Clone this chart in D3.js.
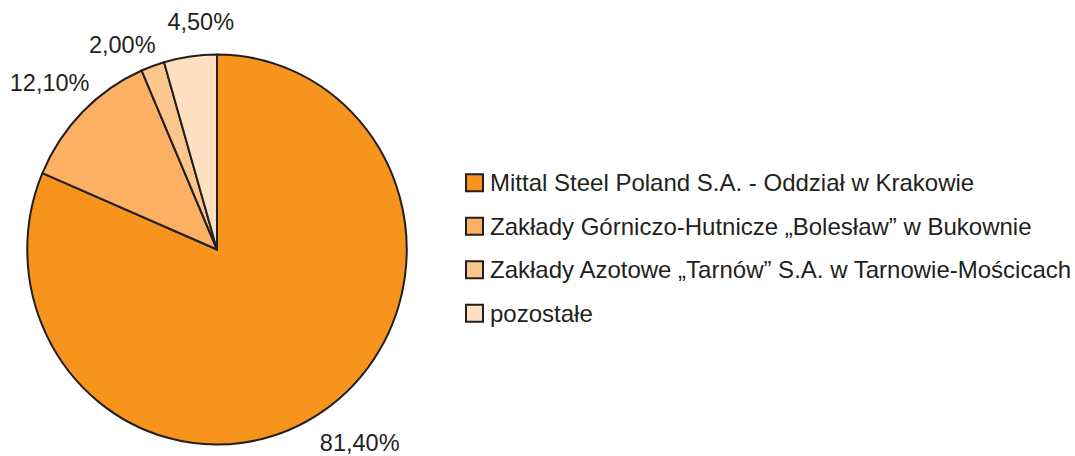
<!DOCTYPE html>
<html>
<head>
<meta charset="utf-8">
<script src="https://cdn.jsdelivr.net/npm/d3@7"></script>
<style>
  body { margin: 0; background: #fff; }
  svg { display: block; font-family: "Liberation Sans", Arial, sans-serif; }
</style>
</head>
<body>
<div id="chart"></div>
<script>
// data
const companies = [
    "Mittal Steel Poland S.A. - Oddział w Krakowie",
    "Zakłady Górniczo-Hutnicze „Bolesław” w Bukownie",
    "Zakłady Azotowe „Tarnów” S.A. w Tarnowie-Mościcach",
    "pozostałe"
];
const shares = [81.4, 12.1, 2.0, 4.5];
const shareLabels = ["81,40%", "12,10%", "2,00%", "4,50%"];
const sliceColors = ["#f7941d", "#fbb063", "#fdc68c", "#fedfbf"];

const width = 1075, height = 456;
const cx = 217, cy = 249.5, radius = 195;
const squeeze = 0.973; // the original pie is a touch narrower than tall
const ink = "#231f20";

const svg = d3.select("#chart")
    .append("svg")
    .attr("width", width)
    .attr("height", height);

const pie = d3.pie().sort(null).value(d => d);
const arcs = pie(shares);

const arc = d3.arc().innerRadius(0).outerRadius(radius);

const g = svg.append("g").attr("transform", `translate(${cx},${cy})`);

g.append("g")
    .attr("transform", `scale(${squeeze},1)`)
    .selectAll("path")
    .data(arcs)
    .enter()
    .append("path")
    .attr("d", arc)
    .attr("vector-effect", "non-scaling-stroke")
    .style("fill", (d, i) => sliceColors[i])
    .style("stroke", ink)
    .style("stroke-width", 2)
    .style("stroke-linejoin", "round");

// percent labels around the pie, small hand nudges like the original layout
const nudge = [{ da: -3, dr: 8 }, { da: 0, dr: 4 }, { da: -5, dr: -6 }, { da: 4, dr: -4 }];
g.selectAll(".pct")
    .data(arcs)
    .enter()
    .append("text")
    .attr("class", "pct")
    .attr("x", (d, i) => {
        const a = (d.startAngle + d.endAngle) / 2 + nudge[i].da * Math.PI / 180;
        return Math.sin(a) * (232 + nudge[i].dr);
    })
    .attr("y", (d, i) => {
        const a = (d.startAngle + d.endAngle) / 2 + nudge[i].da * Math.PI / 180;
        return -Math.cos(a) * (232 + nudge[i].dr);
    })
    .attr("dy", "0.35em")
    .attr("text-anchor", "middle")
    .style("font-size", "23.5px")
    .style("fill", ink)
    .text((d, i) => shareLabels[i]);

// legend
const legendY = d3.scaleBand()
    .domain(companies)
    .range([161, 335]);

const legend = svg.append("g")
    .selectAll("g")
    .data(companies)
    .enter()
    .append("g")
    .attr("transform", d => `translate(466,${legendY(d) + legendY.bandwidth() / 2})`);

legend.append("rect")
    .attr("x", 0)
    .attr("y", -8.5)
    .attr("width", 17)
    .attr("height", 17)
    .style("fill", (d, i) => sliceColors[i])
    .style("stroke", ink)
    .style("stroke-width", 2);

legend.append("text")
    .attr("x", 24)
    .attr("y", 0)
    .attr("dy", "0.36em")
    .style("font-size", "24px")
    .style("fill", ink)
    .text(d => d);
</script>
</body>
</html>
